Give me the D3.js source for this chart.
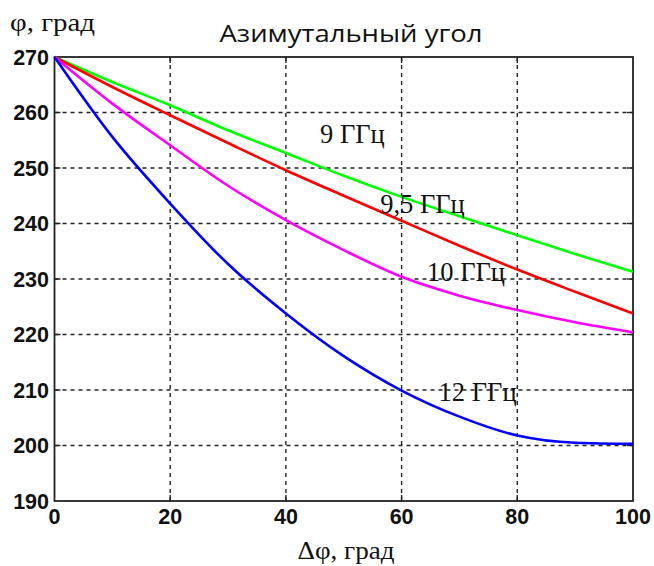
<!DOCTYPE html>
<html><head><meta charset="utf-8">
<script src="https://cdn.jsdelivr.net/npm/d3@7"></script>
<style>body{margin:0;background:#fff}</style>
</head><body>
<svg id="c" width="654" height="566"></svg>
<script>
const dphi = [0, 10, 20, 30, 40, 50, 60, 70, 80, 90, 100];
const f9   = [270, 265.5, 261.3, 256.8, 252.7, 248.6, 244.8, 241.3, 237.9, 234.5, 231.3];
const f95  = [270, 264.6, 259.5, 254.5, 249.6, 245.0, 240.5, 236.0, 231.7, 227.7, 223.8];
const f10  = [270, 261.6, 254.1, 246.8, 240.6, 235.2, 230.4, 227.0, 224.4, 222.2, 220.4];
const f12  = [270, 255.6, 243.6, 232.7, 223.8, 216.1, 209.9, 205.2, 201.8, 200.5, 200.3];
const seriesNames = ["9 ГГц", "9,5 ГГц", "10 ГГц", "12 ГГц"];
const seriesColors = ["#00ff00", "#ff0000", "#ff00ff", "#0000ff"];
const labelPos = [[45.9, 254.5], [56.3, 241.9], [64.4, 229.7], [66.4, 208]];
const xTicks = [0, 20, 40, 60, 80, 100];
const yTicks = [190, 200, 210, 220, 230, 240, 250, 260, 270];

const svg = d3.select("#c");
const L = 54.5, R = 633, T = 57, B = 501;
const x = d3.scaleLinear().domain([0, 100]).range([L, R]);
const y = d3.scaleLinear().domain([190, 270]).range([B, T]);

// grid
const g = svg.append("g");
g.selectAll(".gx").data(xTicks.slice(1, -1)).enter().append("line")
  .attr("x1", d => x(d)).attr("x2", d => x(d)).attr("y1", T).attr("y2", B)
  .attr("stroke", "#222").attr("stroke-width", 1.4).attr("stroke-dasharray", "4,4");
g.selectAll(".gy").data(yTicks.slice(1, -1)).enter().append("line")
  .attr("y1", d => y(d)).attr("y2", d => y(d)).attr("x1", L).attr("x2", R)
  .attr("stroke", "#222").attr("stroke-width", 1.4).attr("stroke-dasharray", "4,4");

// inner ticks
const tl = 6;
xTicks.slice(1, -1).forEach(d => {
  g.append("line").attr("x1", x(d)).attr("x2", x(d)).attr("y1", B).attr("y2", B - tl).attr("stroke", "#222").attr("stroke-width", 1.4);
  g.append("line").attr("x1", x(d)).attr("x2", x(d)).attr("y1", T).attr("y2", T + tl).attr("stroke", "#222").attr("stroke-width", 1.4);
});
yTicks.slice(1, -1).forEach(d => {
  g.append("line").attr("x1", L).attr("x2", L + tl).attr("y1", y(d)).attr("y2", y(d)).attr("stroke", "#222").attr("stroke-width", 1.4);
  g.append("line").attr("x1", R).attr("x2", R - tl).attr("y1", y(d)).attr("y2", y(d)).attr("stroke", "#222").attr("stroke-width", 1.4);
});

// frame
svg.append("rect").attr("x", L).attr("y", T).attr("width", R - L).attr("height", B - T)
  .attr("fill", "none").attr("stroke", "#222").attr("stroke-width", 1.8);

// curves
const all = [f9, f95, f10, f12];
const line = d3.line().x((d, i) => x(dphi[i])).y(d => y(d)).curve(d3.curveMonotoneX);
all.forEach((s, k) => {
  svg.append("path").datum(s).attr("d", line).attr("fill", "none")
    .attr("stroke", seriesColors[k]).attr("stroke-width", 2.6);
});

// series labels
seriesNames.forEach((n, k) => {
  svg.append("text").attr("x", x(labelPos[k][0])).attr("y", y(labelPos[k][1]))
    .attr("font-family", "Liberation Serif, Times New Roman, serif").attr("font-size", 26.5)
    .attr("fill", "#111").text(n);
});

// tick labels
const tf = "Liberation Sans, Arial, sans-serif";
svg.selectAll(".yl").data(yTicks).enter().append("text")
  .attr("x", 49).attr("y", d => y(d) + 7.5).attr("text-anchor", "end")
  .attr("font-family", tf).attr("font-weight", "bold").attr("font-size", 21.5).attr("fill", "#111")
  .text(d => d);
svg.selectAll(".xl").data(xTicks).enter().append("text")
  .attr("x", d => x(d)).attr("y", 524).attr("text-anchor", "middle")
  .attr("font-family", tf).attr("font-weight", "bold").attr("font-size", 21.5).attr("fill", "#111")
  .text(d => d);

// titles
svg.append("text").attr("x", 351).attr("y", 42).attr("text-anchor", "middle")
  .attr("font-family", "Open Sans, sans-serif").attr("font-size", 24).attr("fill", "#111")
  .attr("textLength", 263).attr("lengthAdjust", "spacingAndGlyphs")
  .text("Азимутальный угол");
svg.append("text").attr("x", 10).attr("y", 31)
  .attr("font-family", "Liberation Serif, Times New Roman, serif").attr("font-size", 26).attr("fill", "#111")
  .attr("textLength", 85).attr("lengthAdjust", "spacingAndGlyphs")
  .text("φ, град");
svg.append("text").attr("x", 346).attr("y", 559).attr("text-anchor", "middle")
  .attr("font-family", "Liberation Serif, Times New Roman, serif").attr("font-size", 26).attr("fill", "#111")
  .attr("textLength", 97).attr("lengthAdjust", "spacingAndGlyphs")
  .text("Δφ, град");
</script>
</body></html>
